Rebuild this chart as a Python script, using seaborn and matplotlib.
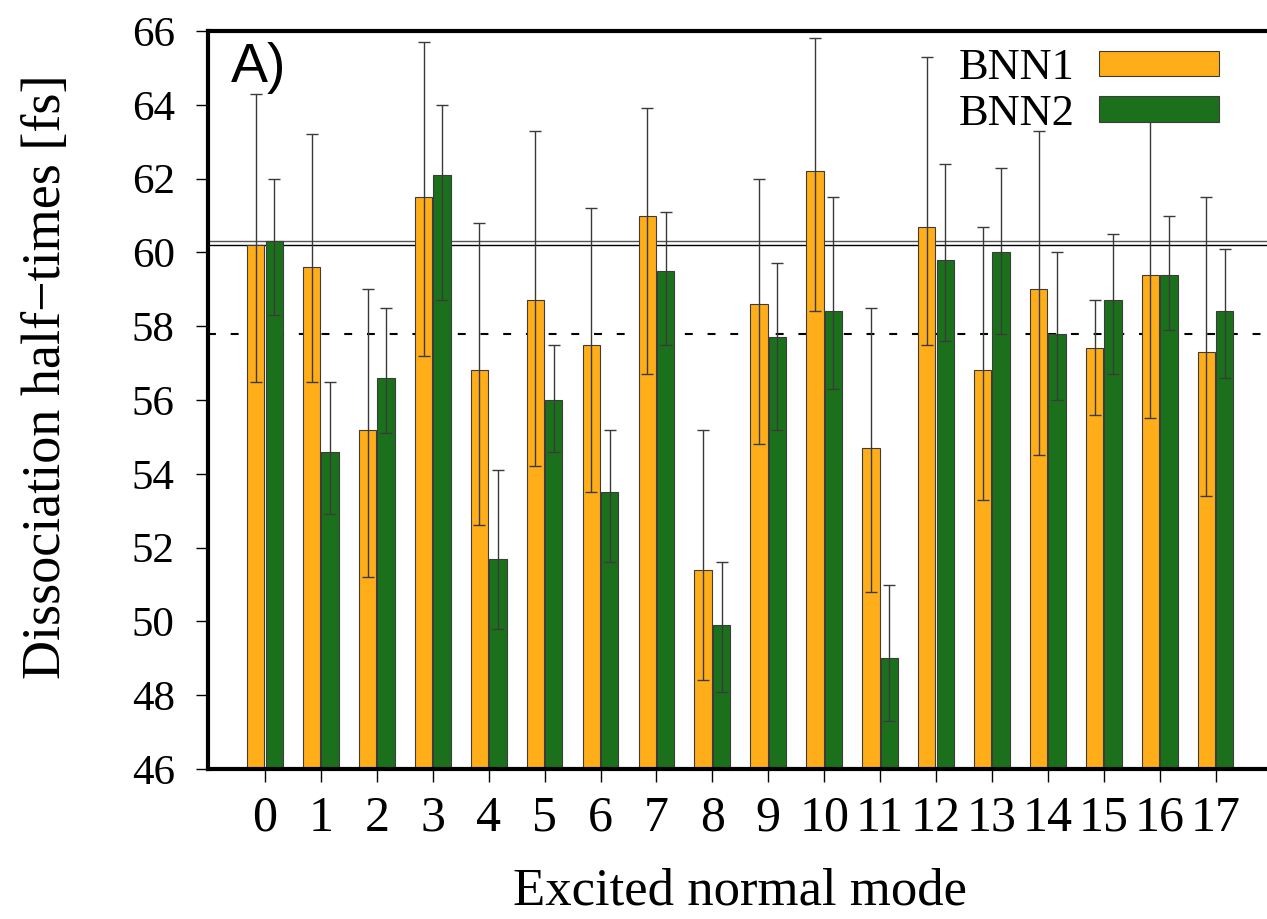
import numpy as np
import pandas as pd
import matplotlib
matplotlib.use('Agg')
import matplotlib.pyplot as plt
import seaborn as sns

# values
modes = [str(i) for i in range(18)]
models = ['BNN1', 'BNN2']

bnn1 = [60.2, 59.6, 55.2, 61.5, 56.8, 58.7, 57.5, 61.0, 51.4, 58.6, 62.2, 54.7, 60.7, 56.8, 59.0, 57.4, 59.4, 57.3]
bnn1_low = [56.5, 56.5, 51.2, 57.2, 52.6, 54.2, 53.5, 56.7, 48.4, 54.8, 58.4, 50.8, 57.5, 53.3, 54.5, 55.6, 55.5, 53.4]
bnn1_high = [64.3, 63.2, 59.0, 65.7, 60.8, 63.3, 61.2, 63.9, 55.2, 62.0, 65.8, 58.5, 65.3, 60.7, 63.3, 58.7, 63.8, 61.5]

bnn2 = [60.3, 54.6, 56.6, 62.1, 51.7, 56.0, 53.5, 59.5, 49.9, 57.7, 58.4, 49.0, 59.8, 60.0, 57.8, 58.7, 59.4, 58.4]
bnn2_low = [58.3, 52.9, 55.1, 58.7, 49.8, 54.6, 51.6, 57.5, 48.1, 55.2, 56.3, 47.3, 57.6, 57.8, 56.0, 56.7, 57.9, 56.6]
bnn2_high = [62.0, 56.5, 58.5, 64.0, 54.1, 57.5, 55.2, 61.1, 51.6, 59.7, 61.5, 51.0, 62.4, 62.3, 60.0, 60.5, 61.0, 60.1]

# reference levels (unexcited BNN1 / BNN2, dashed level)
ref_bnn1 = 60.2
ref_bnn2 = 60.3
ref_dashed = 57.8

orange = '#ffae1a'
green = '#1b711b'

plt.rcParams['font.family'] = ['Liberation Serif', 'DejaVu Serif']

df = pd.DataFrame({
    'mode': modes * 2,
    'model': ['BNN1'] * len(modes) + ['BNN2'] * len(modes),
    'value': bnn1 + bnn2,
})

W, H = 1267, 919
fig = plt.figure(figsize=(W / 100, H / 100), dpi=100)
ax = fig.add_axes([208 / W, 1 - 769 / H, 1 - 208 / W, (769 - 31) / H])

sns.barplot(data=df, x='mode', y='value', hue='model', order=modes, hue_order=models,
            palette=[orange, green], saturation=1, width=0.66, gap=0.06,
            edgecolor='#3c3c3c', linewidth=0.8, errorbar=None, ax=ax, zorder=2)

# error bars on top of each bar
lows = [bnn1_low, bnn2_low]
highs = [bnn1_high, bnn2_high]
vals = [bnn1, bnn2]
for c, v, lo, hi in zip(ax.containers, vals, lows, highs):
    xs = [p.get_x() + p.get_width() / 2 for p in c]
    v = np.array(v)
    yerr = [v - np.array(lo), np.array(hi) - v]
    ax.errorbar(xs, v, yerr=yerr, fmt='none', ecolor='#3a3a3a', elinewidth=1.0,
                capsize=4.3, capthick=1.0, zorder=3)

ax.axhline(ref_bnn2, color='#555555', lw=1.0, zorder=1)
ax.axhline(ref_bnn1, color='black', lw=1.0, zorder=1)
ax.axhline(ref_dashed, color='black', lw=1.5, dashes=(3.8, 7.1), zorder=1)

ax.set_xlim(-1.02, 17.92)
ax.set_ylim(46, 66)
ax.set_yticks(np.arange(46, 67, 2))

for s in ['left', 'top', 'bottom']:
    ax.spines[s].set_linewidth(3)
ax.spines['right'].set_visible(False)

ax.tick_params(axis='both', direction='out', length=9, width=1.0, color='black')
ax.tick_params(axis='y', labelsize=31, pad=15)
ax.tick_params(axis='x', labelsize=36, pad=10)

ax.set_xlabel('Excited normal mode', fontsize=38)
ax.set_ylabel('Dissociation half\u2212times [fs]', fontsize=39)
ax.xaxis.set_label_coords(0.502, -0.134)
ax.yaxis.set_label_coords(-0.128, 0.531)

ax.text(0.022, 0.985, 'A)', transform=ax.transAxes, fontsize=40,
        family='Liberation Sans', va='top', ha='left')

ax.get_legend().remove()
handles, labels = ax.get_legend_handles_labels()
ax.legend(handles[:2], labels[:2], loc='upper right', bbox_to_anchor=(1219 / W, 1 - 48 / H),
          bbox_transform=fig.transFigure, frameon=False, fontsize=32, markerfirst=False,
          handlelength=2.7, handleheight=0.5, handletextpad=0.55, labelspacing=0.13,
          borderpad=0, borderaxespad=0)

fig.savefig('out.png', dpi=100)
